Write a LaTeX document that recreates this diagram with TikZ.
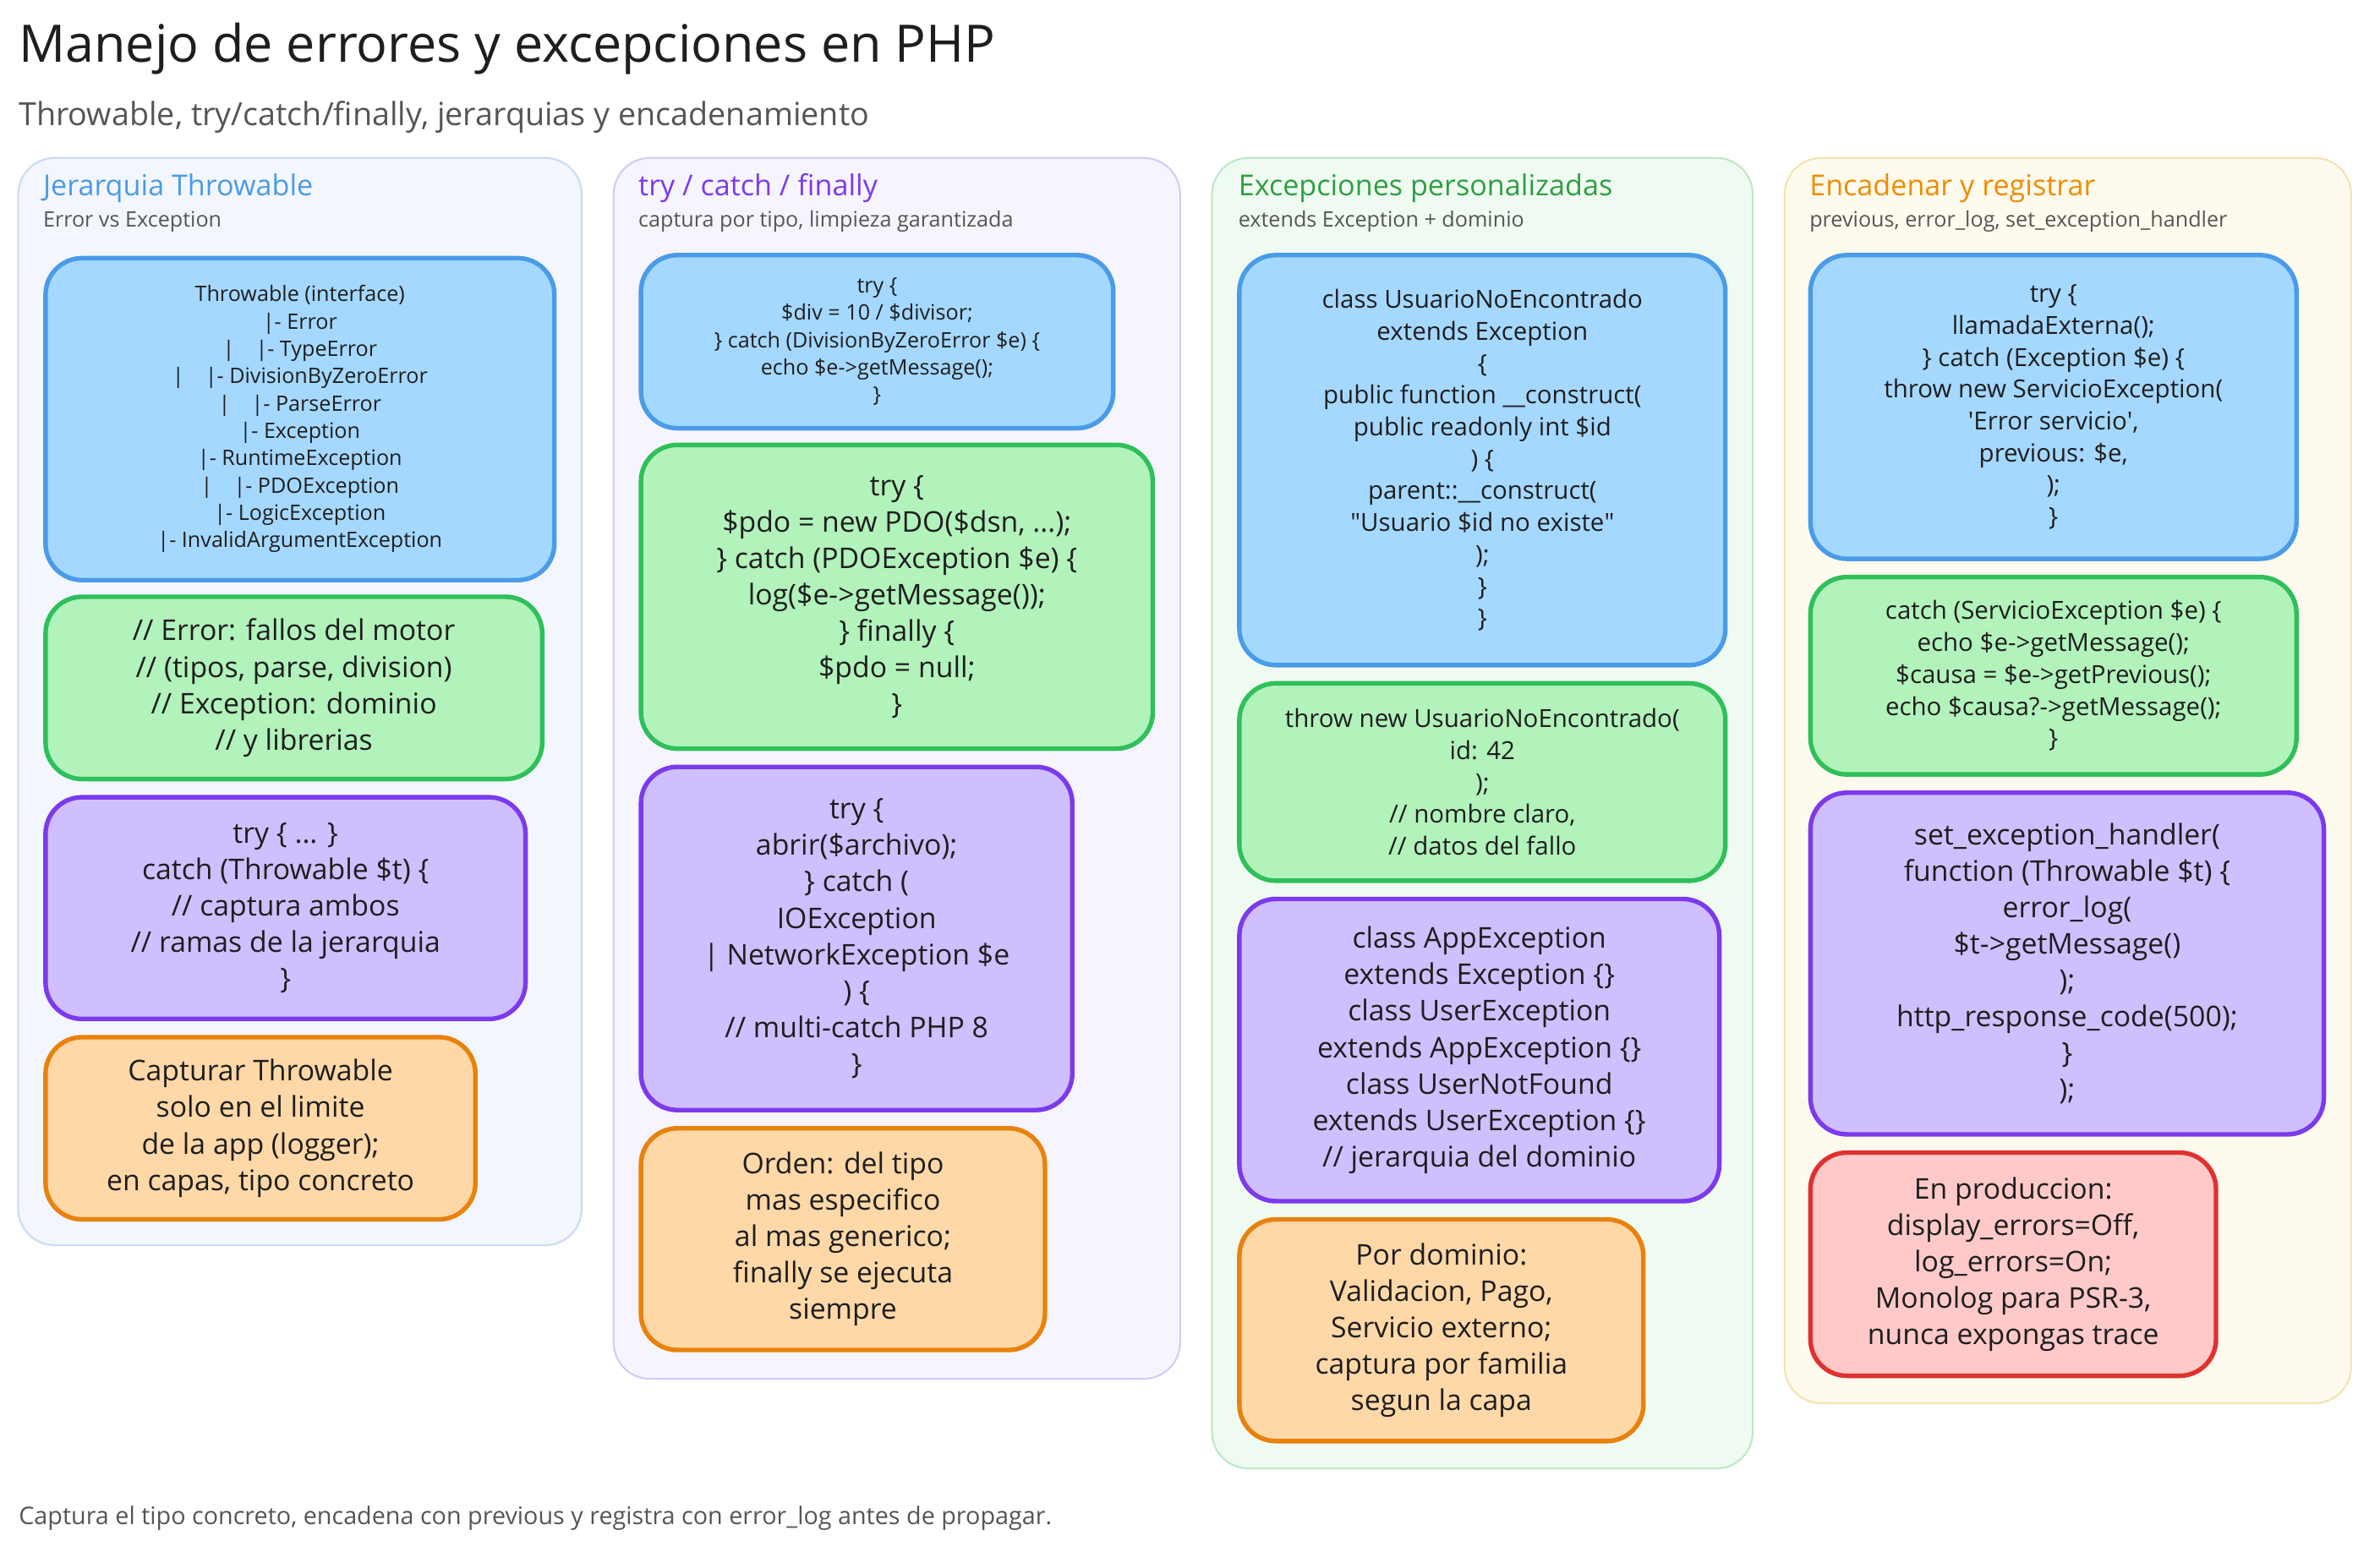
\documentclass[tikz,border=0pt]{standalone}
\usepackage{fontspec}
\setmainfont{Open Sans}
\usetikzlibrary{calc}
\definecolor{bS}{HTML}{4A9BE8}\definecolor{bF}{HTML}{A5D8FF}
\definecolor{gS}{HTML}{2FBF5B}\definecolor{gF}{HTML}{B2F2BB}
\definecolor{pS}{HTML}{7C3AED}\definecolor{pF}{HTML}{D0BFFF}
\definecolor{oS}{HTML}{E8820C}\definecolor{oF}{HTML}{FFD8A8}
\definecolor{rS}{HTML}{E03131}\definecolor{rF}{HTML}{FFC9C9}
\definecolor{c1F}{HTML}{F3F7FD}\definecolor{c1S}{HTML}{C9DDF5}
\definecolor{c2F}{HTML}{F6F4FD}\definecolor{c2S}{HTML}{D7CCF5}
\definecolor{c3F}{HTML}{EFFBF1}\definecolor{c3S}{HTML}{BFE8C8}
\definecolor{c4F}{HTML}{FEFBEE}\definecolor{c4S}{HTML}{F5E3B0}
\definecolor{hB}{HTML}{4A9BE8}\definecolor{hP}{HTML}{7C3AED}
\definecolor{hG}{HTML}{2F9E44}\definecolor{hO}{HTML}{F08C00}
\definecolor{txt}{HTML}{1E1E1E}\definecolor{gry}{HTML}{555555}
\tikzset{
 box/.style={line width=1.5pt,rounded corners=12pt},
 blue/.style={box,draw=bS,fill=bF}, green/.style={box,draw=gS,fill=gF},
 purple/.style={box,draw=pS,fill=pF}, orange/.style={box,draw=oS,fill=oF},
 red/.style={box,draw=rS,fill=rF},
 col/.style={line width=0.6pt,rounded corners=12pt},
 t/.style={align=center,text=txt,inner sep=0pt},
 s/.style={t,font=\fontsize{7}{9}\selectfont},
 m/.style={t,font=\fontsize{8.2}{10.5}\selectfont},
 l/.style={t,font=\fontsize{9.4}{12}\selectfont},
 head/.style={anchor=west,font=\fontsize{9.5}{11}\selectfont,inner sep=0pt},
 sub/.style={anchor=west,font=\fontsize{7}{8}\selectfont,text=gry,inner sep=0pt},
}
\newcommand{\bx}[8]{\path[#2] (#3,#4) rectangle (#5,#6);
 \node[#7] (#1) at ($(#3,#4)!0.5!(#5,#6)$) {#8};}
\begin{document}
\begin{tikzpicture}[x=0.5pt,y=-0.5pt]
\useasboundingbox[fill=white] (0,0) rectangle (1567,1021.5);
\node[anchor=west,inner sep=0pt,font=\fontsize{17}{20}\selectfont,text=txt] (title) at (12,32) {Manejo de errores y excepciones en PHP};
\node[anchor=west,inner sep=0pt,font=\fontsize{10.5}{12}\selectfont,text=gry] (subtitle) at (12,77) {Throwable, try/catch/finally, jerarquias y encadenamiento};
% columns
\path[col,fill=c1F,draw=c1S] (12,104) rectangle (383,820);
\path[col,fill=c2F,draw=c2S] (404,104) rectangle (777,908);
\path[col,fill=c3F,draw=c3S] (798,104) rectangle (1154,967);
\path[col,fill=c4F,draw=c4S] (1175,104) rectangle (1548,924);
\node[head,text=hB] (h1) at (28,124) {Jerarquia Throwable};
\node[sub] (s1) at (28,146) {Error vs Exception};
\node[head,text=hP] (h2) at (420,124) {try / catch / finally};
\node[sub] (s2) at (420,146) {captura por tipo, limpieza garantizada};
\node[head,text=hG] (h3) at (815,124) {Excepciones personalizadas};
\node[sub] (s3) at (815,146) {extends Exception + dominio};
\node[head,text=hO] (h4) at (1191,124) {Encadenar y registrar};
\node[sub] (s4) at (1191,146) {previous, error\_log, set\_exception\_handler};
% col 1
\bx{a1}{blue}{30}{170}{365}{382}{s}{Throwable (interface)\\|- Error\\|\quad |- TypeError\\|\quad |- DivisionByZeroError\\|\quad |- ParseError\\|- Exception\\|- RuntimeException\\|\quad |- PDOException\\|- LogicException\\|- InvalidArgumentException}
\bx{a2}{green}{30}{393}{357}{513}{l}{// Error: fallos del motor\\// (tipos, parse, division)\\// Exception: dominio\\// y librerias}
\bx{a3}{purple}{30}{525}{346}{671}{l}{try \{ ... \}\\catch (Throwable \$t) \{\\// captura ambos\\// ramas de la jerarquia\\\}}
\bx{a4}{orange}{30}{683}{313}{803}{l}{Capturar Throwable\\solo en el limite\\de la app (logger);\\en capas, tipo concreto}
% col 2
\bx{b1}{blue}{422}{168}{733}{282}{s}{try \{\\\$div = 10 / \$divisor;\\\} catch (DivisionByZeroError \$e) \{\\echo \$e->getMessage();\\\}}
\bx{b2}{green}{422}{293}{759}{493}{l}{try \{\\\$pdo = new PDO(\$dsn, ...);\\\} catch (PDOException \$e) \{\\log(\$e->getMessage());\\\} finally \{\\\$pdo = null;\\\}}
\bx{b3}{purple}{422}{505}{706}{731}{l}{try \{\\abrir(\$archivo);\\\} catch (\\IOException\\| NetworkException \$e\\) \{\\// multi-catch PHP 8\\\}}
\bx{b4}{orange}{422}{743}{688}{889}{l}{Orden: del tipo\\mas especifico\\al mas generico;\\finally se ejecuta\\siempre}
% col 3
\bx{c1}{blue}{816}{168}{1136}{438}{m}{class UsuarioNoEncontrado\\extends Exception\\\{\\public function \_\_construct(\\public readonly int \$id\\) \{\\parent::\_\_construct(\\\textquotedbl Usuario \$id no existe\textquotedbl\\);\\\}\\\}}
\bx{c2}{green}{816}{450}{1136}{580}{m}{throw new UsuarioNoEncontrado(\\id: 42\\);\\// nombre claro,\\// datos del fallo}
\bx{c3}{purple}{816}{592}{1132}{791}{l}{class AppException\\extends Exception \{\}\\class UserException\\extends AppException \{\}\\class UserNotFound\\extends UserException \{\}\\// jerarquia del dominio}
\bx{c4}{orange}{816}{803}{1082}{949}{l}{Por dominio:\\Validacion, Pago,\\Servicio externo;\\captura por familia\\segun la capa}
% col 4
\bx{d1}{blue}{1192}{168}{1512}{368}{m}{try \{\\llamadaExterna();\\\} catch (Exception \$e) \{\\throw new ServicioException(\\\textquotesingle Error servicio\textquotesingle,\\previous: \$e,\\);\\\}}
\bx{d2}{green}{1192}{380}{1512}{510}{m}{catch (ServicioException \$e) \{\\echo \$e->getMessage();\\\$causa = \$e->getPrevious();\\echo \$causa?->getMessage();\\\}}
\bx{d3}{purple}{1192}{522}{1530}{747}{l}{set\_exception\_handler(\\function (Throwable \$t) \{\\error\_log(\\\$t->getMessage()\\);\\http\_response\_code(500);\\\}\\);}
\bx{d4}{red}{1192}{759}{1459}{906}{l}{En produccion:\\display\_errors=Off,\\log\_errors=On;\\Monolog para PSR-3,\\nunca expongas trace}
\node[anchor=west,inner sep=0pt,font=\fontsize{8}{9}\selectfont,text=gry] (foot) at (12,1000) {Captura el tipo concreto, encadena con previous y registra con error\_log antes de propagar.};
\end{tikzpicture}
\end{document}
